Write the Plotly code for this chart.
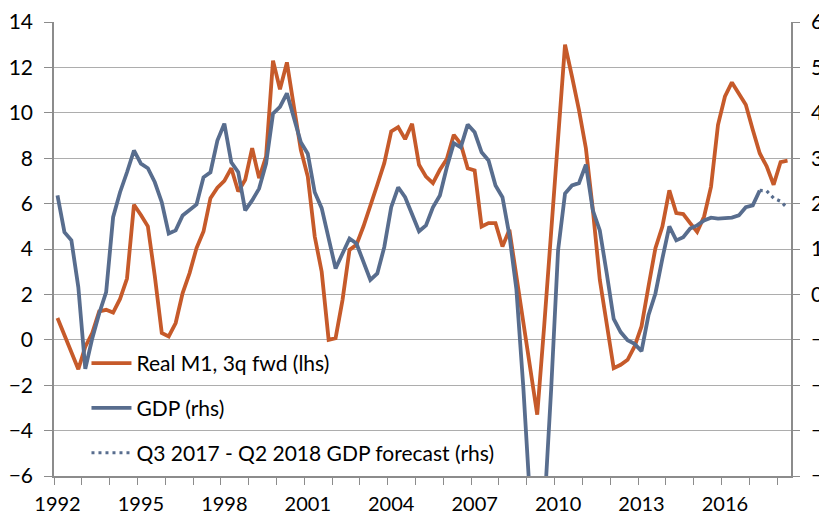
import plotly.graph_objects as go

start_year = 1992
# Real M1 growth, shifted 3 quarters forward (lhs), quarterly from 1992Q1 to 2018Q2
real_m1 = [0.96, 0.2, -0.5, -1.3, -0.3, 0.3, 1.25, 1.32, 1.2, 1.8,
           2.7, 5.95, 5.5, 5.0, 2.8, 0.3, 0.15, 0.74, 2.06, 2.94,
           4.04, 4.77, 6.24, 6.7, 7.0, 7.56, 6.53, 7.05, 8.44, 7.12,
           8.07, 12.3, 11.04, 12.22, 10.28, 8.37, 7.19, 4.55, 3.0, 0.0,
           0.07, 1.76, 3.96, 4.19, 4.99, 5.87, 6.83, 7.78, 9.18, 9.37,
           8.84, 9.52, 7.71, 7.19, 6.9, 7.49, 7.96, 9.03, 8.63, 7.56,
           7.46, 4.99, 5.14, 5.14, 4.11, 4.85, 2.8, 0.7, -1.3, -3.3,
           0.6, 4.6, 8.6, 13.0, 11.6, 10.13, 8.44, 5.73, 2.64, 0.73,
           -1.25, -1.10, -0.88, -0.29, 0.59, 2.35, 4.04, 4.99, 6.58, 5.58,
           5.54, 5.14, 4.75, 5.43, 6.75, 9.47, 10.72, 11.34, 10.82, 10.35,
           9.25, 8.22, 7.64, 6.83, 7.83, 7.89]

# GDP growth (rhs), quarterly from 1992Q1 to 2017Q2
gdp = [2.18, 1.37, 1.19, 0.16, -1.64, -0.97, -0.42, 0.05, 1.70, 2.25,
       2.69, 3.17, 2.88, 2.78, 2.47, 2.03, 1.34, 1.41, 1.74, 1.85,
       1.98, 2.58, 2.69, 3.39, 3.76, 2.91, 2.69, 1.85, 2.07, 2.33,
       2.88, 3.98, 4.13, 4.43, 3.91, 3.35, 3.10, 2.25, 1.90, 1.19,
       0.57, 0.90, 1.23, 1.12, 0.71, 0.32, 0.46, 1.04, 1.92, 2.36,
       2.14, 1.74, 1.39, 1.52, 1.92, 2.18, 2.80, 3.33, 3.24, 3.74,
       3.57, 3.13, 2.95, 2.40, 2.14, 1.30, 0.12, -2.05, -4.6, -5.4,
       -4.8, -2.1, 0.97, 2.22, 2.40, 2.45, 2.86, 1.85, 1.41, 0.46,
       -0.54, -0.83, -1.01, -1.09, -1.25, -0.46, 0.02, 0.79, 1.50, 1.19,
       1.26, 1.45, 1.52, 1.63, 1.69, 1.67, 1.67, 1.69, 1.74, 1.92,
       1.96, 2.29]

# GDP forecast (rhs): from 2017Q2 (last actual) through 2018Q2
gdp_forecast = [2.29, 2.28, 2.12, 2.05, 1.90]

tick_years = [1992, 1995, 1998, 2001, 2004, 2007, 2010, 2013, 2016]
tick_labels = [str(y) for y in tick_years]


def qpos(i):
    return start_year + (i + 0.5) / 4.0


x_m1 = [qpos(i) for i in range(len(real_m1))]
x_gdp = [qpos(i) for i in range(len(gdp))]
fc_start = len(gdp) - 1
x_fc = [qpos(fc_start + i) for i in range(len(gdp_forecast))]

ORANGE = "#C65A2A"
BLUE = "#586D8E"
GRID = "#ADADAD"
AXIS = "#8C8C8C"
FONT = "Lato"
FS = 21

# the page body has an 8px margin, so the figure is drawn 8px smaller than the window
W, H = 819, 507
ML, MR, MT, MB = 45.5, 36, 14, 39
PW, PH = W - ML - MR, H - MT - MB

fig = go.Figure()
fig.add_trace(go.Scatter(x=x_m1, y=real_m1, mode="lines", name="Real M1, 3q fwd (lhs)",
                         line=dict(color=ORANGE, width=3.8), legendgroup="a", yaxis="y"))
fig.add_trace(go.Scatter(x=x_gdp, y=gdp, mode="lines", name="GDP (rhs)",
                         line=dict(color=BLUE, width=3.8), legendgroup="b", yaxis="y2"))
fig.add_trace(go.Scatter(x=x_fc, y=gdp_forecast, mode="lines",
                         name="Q3 2017 - Q2 2018 GDP forecast (rhs)",
                         line=dict(color=BLUE, width=3.2, dash="3px,4px"), legendgroup="c", yaxis="y2"))

fig.update_layout(
    width=W, height=H,
    margin=dict(l=ML, r=MR, t=MT, b=MB, autoexpand=False),
    paper_bgcolor="white", plot_bgcolor="white",
    font=dict(family=FONT, size=FS, color="#000000"),
    showlegend=True,
    legend=dict(x=(78 - ML) / PW, y=(H - MB - 335) / PH, xref="paper", yref="paper",
                xanchor="left", yanchor="top", bgcolor="rgba(0,0,0,0)",
                itemwidth=40, tracegroupgap=14.5, font=dict(family=FONT, size=FS),
                borderwidth=0),
    xaxis=dict(range=[1992, 2018.5], tickmode="array",
               tickvals=[y + 0.125 for y in tick_years], ticktext=tick_labels,
               ticks="", showgrid=False, zeroline=False, tickangle=0, automargin=False,
               showline=True, linecolor=AXIS, linewidth=1.5, ticklabelstandoff=9,
               tickfont=dict(family=FONT, size=20),
               minor=dict(tickmode="array", tickvals=list(range(1992, 2019)),
                          ticks="outside", ticklen=7, tickcolor=AXIS, tickwidth=1.2,
                          showgrid=False)),
    yaxis=dict(range=[-6, 14], dtick=2, tick0=0, showgrid=True, gridcolor=GRID, gridwidth=1.3,
               zeroline=False, showline=True, linecolor=AXIS, linewidth=1.5, automargin=False,
               ticks="outside", ticklen=8, tickcolor=AXIS, tickwidth=1.2, ticklabelstandoff=7,
               tickfont=dict(family=FONT, size=FS)),
    yaxis2=dict(range=[-4, 6], dtick=1, tick0=0, overlaying="y", side="right",
                showgrid=False, zeroline=False, showline=True, linecolor=AXIS, linewidth=1.5,
                automargin=False, ticklabelstandoff=7,
                ticks="outside", ticklen=7, tickcolor=AXIS, tickwidth=1.2,
                tickfont=dict(family=FONT, size=FS)),
)

fig.write_html("out.html")
